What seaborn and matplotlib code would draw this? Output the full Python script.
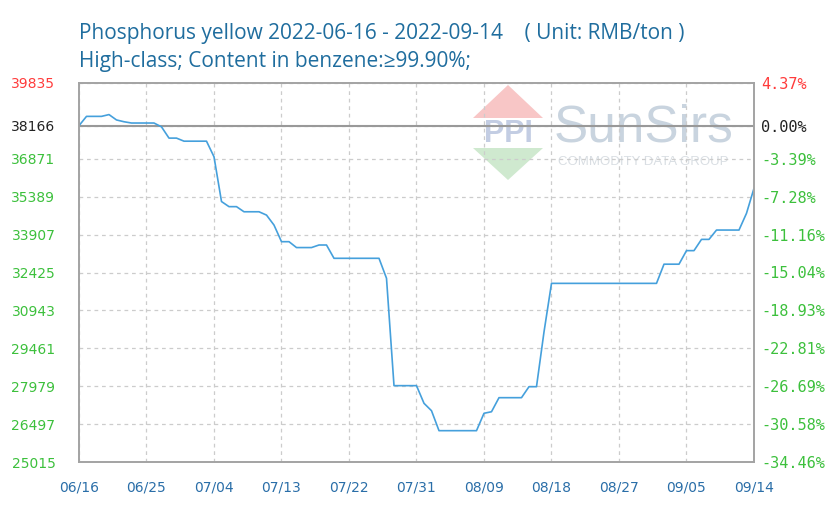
import matplotlib
matplotlib.use("Agg")
import pandas as pd
import matplotlib.pyplot as plt
import matplotlib.dates as mdates
from matplotlib.patches import Polygon
import seaborn as sns

# values (RMB/ton)
dates = ["2022-06-16", "2022-06-17", "2022-06-19", "2022-06-20", "2022-06-21",
         "2022-06-22", "2022-06-23", "2022-06-26", "2022-06-27", "2022-06-28",
         "2022-06-29", "2022-06-30", "2022-07-03", "2022-07-04", "2022-07-05",
         "2022-07-06", "2022-07-07", "2022-07-08", "2022-07-10", "2022-07-11",
         "2022-07-12", "2022-07-13", "2022-07-14", "2022-07-15", "2022-07-17",
         "2022-07-18", "2022-07-19", "2022-07-20", "2022-07-26", "2022-07-27",
         "2022-07-28", "2022-07-31", "2022-08-01", "2022-08-02", "2022-08-03",
         "2022-08-08", "2022-08-09", "2022-08-10", "2022-08-11", "2022-08-14",
         "2022-08-15", "2022-08-16", "2022-08-17", "2022-08-18", "2022-09-01",
         "2022-09-02", "2022-09-04", "2022-09-05", "2022-09-06", "2022-09-07",
         "2022-09-08", "2022-09-09", "2022-09-12", "2022-09-13", "2022-09-14"]
prices = [38166, 38530, 38530, 38600, 38390,
          38320, 38270, 38270, 38120, 37680,
          37680, 37560, 37560, 36950, 35200,
          35000, 35000, 34800, 34800, 34670,
          34280, 33630, 33630, 33400, 33400,
          33500, 33500, 32980, 32980, 32200,
          28000, 28000, 27310, 27020, 26240,
          26240, 26920, 26980, 27530, 27530,
          27960, 27960, 30100, 32000, 32000,
          32750, 32750, 33280, 33280, 33720,
          33720, 34085, 34085, 34740, 35720]

base_price = 38166
y_ticks = [25015, 26497, 27979, 29461, 30943, 32425, 33907, 35389, 36871, 38166, 39835]
pct_labels = ["-34.46%", "-30.58%", "-26.69%", "-22.81%", "-18.93%", "-15.04%",
              "-11.16%", "-7.28%", "-3.39%", "0.00%", "4.37%"]
x_ticks = ["2022-06-16", "2022-06-25", "2022-07-04", "2022-07-13", "2022-07-22",
           "2022-07-31", "2022-08-09", "2022-08-18", "2022-08-27", "2022-09-05",
           "2022-09-14"]

df = pd.DataFrame({"date": pd.to_datetime(dates), "price": prices})

sns.set_style("white")
plt.rcParams["font.family"] = ["DejaVu Sans"]

W, H = 834, 513
fig = plt.figure(figsize=(W / 100, H / 100), dpi=100)
ax = fig.add_axes([79 / W, 1 - 462 / H, 675 / W, 379 / H])
ax.set_facecolor("none")


def px(x, y):
    return (x / W, 1 - y / H)


# watermark logo
fig.patches.append(Polygon([px(508, 85), px(473, 118), px(543, 118)], closed=True,
                           transform=fig.transFigure, facecolor="#f8c6c6",
                           edgecolor="none", zorder=-2))
fig.patches.append(Polygon([px(473, 148), px(543, 148), px(508, 180)], closed=True,
                           transform=fig.transFigure, facecolor="#cfe9cf",
                           edgecolor="none", zorder=-2))
fig.text(*px(508, 134), "PPI", ha="center", va="center", fontsize=22,
         fontweight="bold", family="Liberation Sans", color="#c3cde3", zorder=-1)
fig.text(*px(644, 128), "SunSirs", ha="center", va="center", fontsize=37,
         family="Liberation Sans", color="#c9d4df", zorder=-1)
fig.text(*px(643, 162), "COMMODITY DATA GROUP", ha="center", va="center", fontsize=9.5,
         family="Liberation Sans", color="#d9dee3", zorder=-1)

sns.lineplot(data=df, x="date", y="price", ax=ax, color="#45a0dc", linewidth=1.2)

ax.set_xlim(pd.Timestamp(x_ticks[0]), pd.Timestamp(x_ticks[-1]))
ax.set_ylim(y_ticks[0], y_ticks[-1])
ax.set_xticks(pd.to_datetime(x_ticks))
ax.xaxis.set_major_formatter(mdates.DateFormatter("%m/%d"))
ax.set_yticks(y_ticks)
ax.set_yticklabels([str(v) for v in y_ticks])
ax.set_xlabel("")
ax.set_ylabel("")

ax.grid(True, color="#cccccc", linestyle=(0, (3, 3)), linewidth=0.9)
ax.axhline(base_price, color="#999999", linewidth=1.5, zorder=1)

ax.tick_params(axis="y", length=0, pad=17, labelsize=10)
ax.tick_params(axis="x", length=0, pad=13, labelsize=10, labelcolor="#2a6ea8")

green, red = "#3cc03c", "#ff3b3b"


def tick_color(v):
    if v == y_ticks[-1]:
        return red
    if v == base_price:
        return "#222222"
    return green


for lab, v in zip(ax.get_yticklabels(), y_ticks):
    lab.set_color(tick_color(v))

ax2 = ax.twinx()
ax2.set_ylim(ax.get_ylim())
ax2.set_yticks(y_ticks)
ax2.set_yticklabels(pct_labels, family="DejaVu Sans Mono")
ax2.tick_params(axis="y", length=0, pad=5, labelsize=11)
for lab, v in zip(ax2.get_yticklabels(), y_ticks):
    lab.set_color(tick_color(v))

for a in (ax, ax2):
    for s in a.spines.values():
        s.set_color("#a3a3a3")
        s.set_linewidth(1.2)

title_color = "#1f6d9e"
fig.text(*px(79, 39.5), "Phosphorus yellow 2022-06-16 - 2022-09-14    ( Unit: RMB/ton )",
         fontsize=15, family="Open Sans", color=title_color, va="baseline")
fig.text(*px(79, 67), "High-class; Content in benzene:\u226599.90%;",
         fontsize=15, family=["Open Sans", "DejaVu Sans"], color=title_color, va="baseline")

fig.savefig("out.png", dpi=100)
